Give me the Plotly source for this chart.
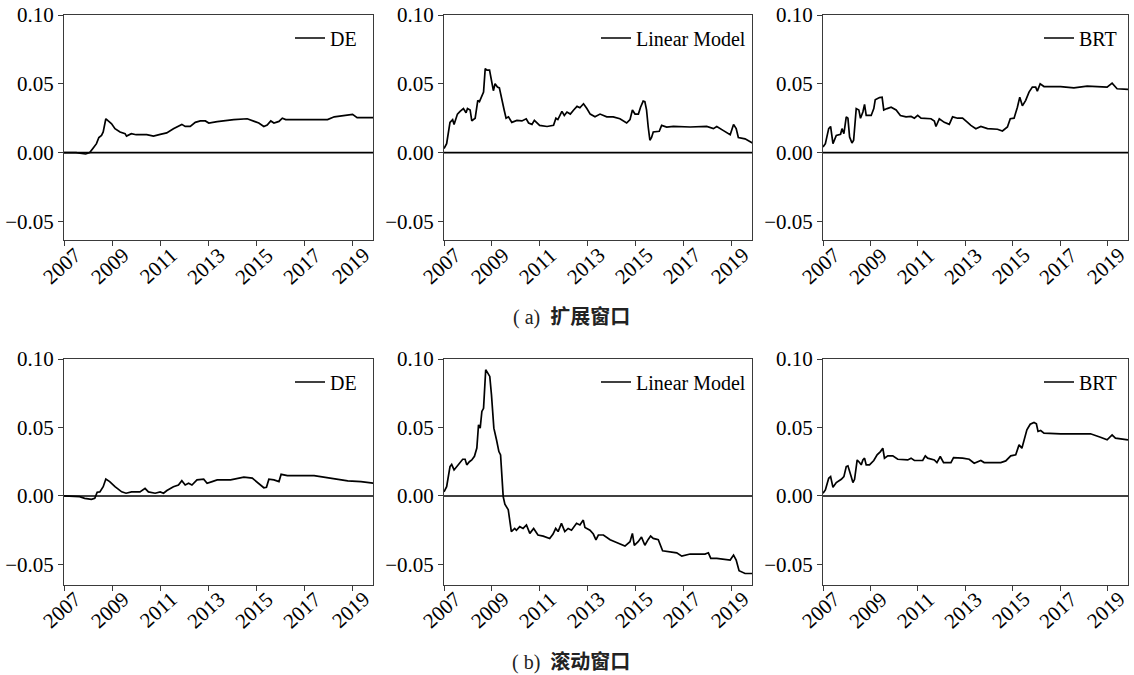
import plotly.graph_objects as go

# ---- data: cumulative out-of-sample performance gap, by year ----
# (a) expanding window
de_exp_t = [2007.0, 2007.5, 2007.9, 2008.07, 2008.2, 2008.35, 2008.45, 2008.56, 2008.63, 2008.74, 2008.84, 2008.98,
            2009.12, 2009.33, 2009.54, 2009.6, 2009.8, 2010.0, 2010.44, 2010.72, 2011.0, 2011.27, 2011.55, 2011.9,
            2012.04, 2012.25, 2012.46, 2012.67, 2012.88, 2013.02, 2013.37, 2014.06, 2014.62, 2014.9, 2015.1, 2015.31,
            2015.45, 2015.6, 2015.73, 2015.94, 2016.08, 2016.22, 2016.85, 2017.96, 2018.24, 2018.8, 2019.0, 2019.19, 2019.88]
de_exp_v = [0.0, 0.0, -0.001, 0.0, 0.003, 0.0065, 0.011, 0.0125, 0.015, 0.0246, 0.023, 0.021,
            0.0174, 0.015, 0.0138, 0.012, 0.0138, 0.013, 0.013, 0.012, 0.0133, 0.0143, 0.0174, 0.0205,
            0.019, 0.019, 0.022, 0.023, 0.023, 0.0215, 0.0225, 0.024, 0.0246, 0.0227, 0.0215, 0.019,
            0.020, 0.023, 0.0215, 0.0227, 0.025, 0.024, 0.024, 0.024, 0.026, 0.027, 0.0278, 0.0254, 0.0254]

lm_exp_t = [2007.0, 2007.11, 2007.25, 2007.36, 2007.42, 2007.56, 2007.67, 2007.81, 2007.92, 2007.98, 2008.09, 2008.16,
            2008.3, 2008.41, 2008.48, 2008.55, 2008.65, 2008.72, 2008.79, 2008.9, 2008.99, 2009.06, 2009.13, 2009.23,
            2009.31, 2009.41, 2009.51, 2009.59, 2009.69, 2009.83, 2010.04, 2010.25, 2010.43, 2010.53, 2010.67, 2010.77,
            2010.88, 2010.99, 2011.3, 2011.57, 2011.67, 2011.75, 2011.92, 2012.02, 2012.13, 2012.27, 2012.41, 2012.55,
            2012.67, 2012.82, 2012.96, 2013.1, 2013.3, 2013.51, 2013.79, 2014.06, 2014.34, 2014.62, 2014.76, 2014.86,
            2014.97, 2015.11, 2015.2, 2015.31, 2015.38, 2015.45, 2015.52, 2015.59, 2015.66, 2015.73, 2015.98, 2016.08,
            2016.29, 2016.57, 2017.27, 2017.96, 2018.24, 2018.38, 2018.66, 2018.94, 2019.08, 2019.19, 2019.28, 2019.56, 2019.87]
lm_exp_v = [0.003, 0.0065, 0.022, 0.024, 0.0205, 0.028, 0.030, 0.032, 0.029, 0.032, 0.031, 0.023,
            0.025, 0.038, 0.037, 0.040, 0.044, 0.0611, 0.060, 0.060, 0.051, 0.045, 0.050, 0.0476,
            0.047, 0.040, 0.031, 0.025, 0.026, 0.022, 0.0234, 0.023, 0.0246, 0.0215, 0.0205, 0.0234,
            0.0217, 0.0198, 0.019, 0.0198, 0.025, 0.024, 0.030, 0.027, 0.0295, 0.028, 0.031, 0.0336,
            0.0326, 0.0355, 0.032, 0.028, 0.026, 0.028, 0.026, 0.026, 0.0246, 0.0215, 0.024, 0.031,
            0.028, 0.028, 0.033, 0.0374, 0.037, 0.031, 0.0186, 0.009, 0.011, 0.015, 0.0155, 0.0198,
            0.0186, 0.019, 0.0186, 0.019, 0.0174, 0.019, 0.016, 0.013, 0.0205, 0.0174, 0.011, 0.010, 0.007]

brt_exp_t = [2007.0, 2007.1, 2007.24, 2007.32, 2007.42, 2007.56, 2007.74, 2007.8, 2007.88, 2007.98, 2008.05, 2008.12,
             2008.22, 2008.29, 2008.4, 2008.51, 2008.58, 2008.68, 2008.75, 2008.82, 2009.03, 2009.14, 2009.2, 2009.38,
             2009.49, 2009.56, 2009.7, 2009.87, 2010.08, 2010.26, 2010.5, 2010.71, 2010.85, 2010.99, 2011.13, 2011.55,
             2011.69, 2011.76, 2011.9, 2012.11, 2012.32, 2012.46, 2012.67, 2012.88, 2013.09, 2013.23, 2013.44, 2013.65,
             2013.93, 2014.35, 2014.56, 2014.77, 2014.89, 2015.05, 2015.19, 2015.29, 2015.4, 2015.54, 2015.68, 2015.82,
             2015.96, 2016.03, 2016.15, 2016.31, 2017.01, 2017.57, 2018.13, 2018.97, 2019.18, 2019.39, 2019.85]
brt_exp_v = [0.004, 0.0065, 0.0174, 0.019, 0.0065, 0.0125, 0.0133, 0.0174, 0.0138, 0.026, 0.025, 0.0114,
             0.007, 0.009, 0.032, 0.031, 0.025, 0.0295, 0.035, 0.027, 0.027, 0.032, 0.0384, 0.040,
             0.0403, 0.031, 0.032, 0.033, 0.031, 0.027, 0.026, 0.0263, 0.025, 0.027, 0.025, 0.0246,
             0.023, 0.019, 0.0246, 0.022, 0.0205, 0.026, 0.025, 0.025, 0.022, 0.0198, 0.0174, 0.019,
             0.0174, 0.017, 0.0157, 0.0186, 0.0246, 0.025, 0.033, 0.0403, 0.034, 0.038, 0.044, 0.0476,
             0.0476, 0.0447, 0.050, 0.048, 0.048, 0.047, 0.0483, 0.0476, 0.0505, 0.0464, 0.046]

# (b) rolling window
de_roll_t = [2007.0, 2007.65, 2007.86, 2008.14, 2008.28, 2008.38, 2008.49, 2008.63, 2008.74, 2008.9, 2009.12, 2009.4,
             2009.58, 2009.81, 2010.16, 2010.37, 2010.51, 2010.79, 2011.0, 2011.14, 2011.28, 2011.55, 2011.76, 2011.9,
             2012.04, 2012.18, 2012.32, 2012.53, 2012.81, 2012.95, 2013.16, 2013.37, 2013.93, 2014.48, 2014.83, 2015.1,
             2015.31, 2015.42, 2015.52, 2015.73, 2015.94, 2016.03, 2016.29, 2017.4, 2018.24, 2018.8, 2019.35, 2019.88]
de_roll_v = [0.0, -0.0005, -0.0017, -0.0024, -0.0017, 0.0027, 0.003, 0.0068, 0.0124, 0.0105, 0.0068, 0.003,
             0.002, 0.003, 0.003, 0.0056, 0.003, 0.002, 0.003, 0.002, 0.004, 0.0068, 0.008, 0.0112,
             0.008, 0.0093, 0.008, 0.0117, 0.0122, 0.0093, 0.0105, 0.0117, 0.0117, 0.0137, 0.013, 0.0093,
             0.006, 0.0063, 0.0122, 0.0117, 0.0105, 0.0158, 0.0149, 0.0149, 0.0124, 0.011, 0.0105, 0.0093]

lm_roll_t = [2007.0, 2007.11, 2007.25, 2007.32, 2007.42, 2007.6, 2007.78, 2007.88, 2007.95, 2008.06, 2008.16, 2008.27,
             2008.37, 2008.44, 2008.51, 2008.58, 2008.65, 2008.74, 2008.84, 2008.91, 2008.98, 2009.08, 2009.19, 2009.29,
             2009.36, 2009.47, 2009.54, 2009.68, 2009.81, 2009.95, 2010.02, 2010.16, 2010.3, 2010.44, 2010.58, 2010.74,
             2010.92, 2011.14, 2011.41, 2011.55, 2011.66, 2011.76, 2011.9, 2012.04, 2012.18, 2012.32, 2012.53, 2012.67,
             2012.81, 2012.88, 2013.09, 2013.23, 2013.34, 2013.44, 2013.65, 2013.93, 2014.2, 2014.55, 2014.76, 2014.86,
             2014.94, 2015.1, 2015.24, 2015.38, 2015.52, 2015.62, 2015.73, 2015.94, 2016.12, 2016.43, 2016.71, 2016.92,
             2017.27, 2017.89, 2018.03, 2018.13, 2018.38, 2018.94, 2019.08, 2019.19, 2019.31, 2019.56, 2019.87]
lm_roll_v = [0.003, 0.0068, 0.0215, 0.023, 0.019, 0.0227, 0.0268, 0.0268, 0.0227, 0.025, 0.0263, 0.029,
             0.035, 0.052, 0.0495, 0.0617, 0.064, 0.0922, 0.0898, 0.0873, 0.074, 0.0495, 0.041, 0.0324,
             0.030, -0.0005, -0.006, -0.010, -0.026, -0.0237, -0.025, -0.0224, -0.0237, -0.0212, -0.0273, -0.0237,
             -0.0285, -0.0293, -0.031, -0.0278, -0.0237, -0.026, -0.020, -0.026, -0.0237, -0.025, -0.020, -0.0212,
             -0.0176, -0.023, -0.025, -0.0278, -0.032, -0.0285, -0.0285, -0.032, -0.034, -0.0366, -0.0334, -0.0273,
             -0.036, -0.0334, -0.030, -0.036, -0.0317, -0.0293, -0.031, -0.032, -0.040, -0.0407, -0.0415, -0.0439,
             -0.0424, -0.0424, -0.0415, -0.0456, -0.0456, -0.0468, -0.0432, -0.0468, -0.0546, -0.0566, -0.0566]

brt_roll_t = [2007.0, 2007.1, 2007.24, 2007.32, 2007.42, 2007.56, 2007.77, 2007.88, 2007.98, 2008.05, 2008.19, 2008.26,
              2008.33, 2008.44, 2008.54, 2008.61, 2008.68, 2008.75, 2008.82, 2008.96, 2009.14, 2009.28, 2009.42, 2009.52,
              2009.59, 2009.73, 2009.94, 2010.15, 2010.57, 2010.71, 2010.85, 2011.2, 2011.31, 2011.41, 2011.69, 2011.8,
              2011.94, 2012.08, 2012.39, 2012.5, 2012.88, 2013.16, 2013.37, 2013.65, 2013.79, 2014.49, 2014.7, 2014.91,
              2015.12, 2015.26, 2015.38, 2015.47, 2015.59, 2015.73, 2015.89, 2015.99, 2016.06, 2016.17, 2016.31, 2017.01,
              2018.27, 2018.69, 2018.97, 2019.18, 2019.32, 2019.85]
brt_roll_v = [0.002, 0.0044, 0.0129, 0.0141, 0.0063, 0.0098, 0.0122, 0.0141, 0.0215, 0.022, 0.0141, 0.0098,
              0.0122, 0.0263, 0.0244, 0.0227, 0.0263, 0.0276, 0.0227, 0.0227, 0.0259, 0.030, 0.0324, 0.0349,
              0.0276, 0.0293, 0.0293, 0.0268, 0.0263, 0.0276, 0.0259, 0.0259, 0.0293, 0.0276, 0.0263, 0.0244,
              0.0288, 0.0244, 0.0244, 0.028, 0.0276, 0.0268, 0.0239, 0.0259, 0.0244, 0.0244, 0.0256, 0.0293,
              0.030, 0.0373, 0.0349, 0.041, 0.0483, 0.0524, 0.0537, 0.0527, 0.0471, 0.0478, 0.0459, 0.0454,
              0.0454, 0.0429, 0.041, 0.0446, 0.0422, 0.041]

model_names = ["DE", "Linear Model", "BRT"]
year_ticks = [2007, 2009, 2011, 2013, 2015, 2017, 2019]
y_tickvals = [-0.05, 0.0, 0.05, 0.10]
y_ticktext = ["\u22120.05", "0.00", "0.05", "0.10"]
captions = ["( a)  <b>扩展窗口</b>", "( b)  <b>滚动窗口</b>"]

# ---- layout geometry (paper fractions for a 1134 x 675 canvas) ----
W, H = 1134, 675
col_px = [(64, 373), (444, 752), (823, 1128)]
row_px = [(15, 240), (359, 585)]
y_ranges = [[-0.0635, 0.10], [-0.065, 0.10]]
legend_right_px = [362, 751, 1122]
legend_mid_px = [38, 382]
xlabel_mid_px = [266, 610]
caption_mid_px = [318, 662]

SERIF = "Liberation Serif, Times New Roman, serif"
AXIS_COLOR = "#3a3a3a"

series = [
    [(de_exp_t, de_exp_v), (lm_exp_t, lm_exp_v), (brt_exp_t, brt_exp_v)],
    [(de_roll_t, de_roll_v), (lm_roll_t, lm_roll_v), (brt_roll_t, brt_roll_v)],
]

fig = go.Figure()
layout = dict(
    width=W, height=H,
    margin=dict(l=0, r=0, t=0, b=0, pad=0, autoexpand=False),
    paper_bgcolor="white", plot_bgcolor="white",
    showlegend=True,
)
annotations = []
shapes = []

k = 0
for r in range(2):
    for c in range(3):
        k += 1
        sfx = "" if k == 1 else str(k)
        leg = "legend" if k == 1 else f"legend{k}"
        t, v = series[r][c]
        fig.add_trace(go.Scatter(
            x=t, y=v, mode="lines", name=model_names[c],
            line=dict(color="black", width=1.7),
            xaxis=f"x{sfx}", yaxis=f"y{sfx}", legend=leg,
        ))
        x0, x1 = col_px[c]
        y0, y1 = row_px[r]
        layout[f"xaxis{sfx}"] = dict(
            domain=[x0 / W, x1 / W], anchor=f"y{sfx}", automargin=False,
            range=[2007, 2019.85], tickvals=year_ticks, showticklabels=False,
            ticks="outside", ticklen=5, tickcolor=AXIS_COLOR,
            showline=True, linecolor=AXIS_COLOR, linewidth=1, mirror=True,
            showgrid=False, zeroline=False,
        )
        layout[f"yaxis{sfx}"] = dict(
            domain=[1 - y1 / H, 1 - y0 / H], anchor=f"x{sfx}", automargin=False,
            range=y_ranges[r], tickvals=y_tickvals, ticktext=y_ticktext,
            ticks="outside", ticklen=5, tickcolor=AXIS_COLOR,
            showline=True, linecolor=AXIS_COLOR, linewidth=1, mirror=True,
            showgrid=False, zeroline=False,
            tickfont=dict(family=SERIF, size=21, color="black"),
        )
        layout[leg] = dict(
            x=legend_right_px[c] / W, xanchor="right",
            y=1 - legend_mid_px[r] / H, yanchor="middle",
            bgcolor="rgba(0,0,0,0)", borderwidth=0,
            font=dict(family=SERIF, size=20, color="black"),
            itemwidth=30, tracegroupgap=0,
        )
        # zero reference line
        shapes.append(dict(
            type="line", xref=f"x{sfx} domain", yref=f"y{sfx}",
            x0=0, x1=1, y0=0, y1=0, line=dict(color="black", width=1.6),
        ))
        # rotated year labels centred under each tick
        for yr in year_ticks:
            annotations.append(dict(
                x=yr, xref=f"x{sfx}", y=1 - xlabel_mid_px[r] / H, yref="paper",
                text=str(yr), showarrow=False, textangle=-42,
                xanchor="center", yanchor="middle", xshift=-2,
                font=dict(family=SERIF, size=21, color="black"),
            ))

for r in range(2):
    annotations.append(dict(
        x=571 / W, y=1 - caption_mid_px[r] / H, xref="paper", yref="paper",
        text=captions[r], showarrow=False, xanchor="center", yanchor="middle",
        font=dict(family="Liberation Serif, Noto Sans CJK SC", size=20, color="#222"),
    ))

layout["annotations"] = annotations
layout["shapes"] = shapes
fig.update_layout(**layout)
fig.write_html("out.html")
